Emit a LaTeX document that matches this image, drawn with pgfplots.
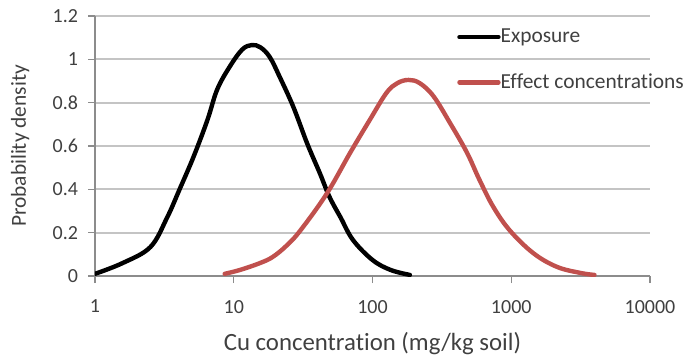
\documentclass[border=0pt]{standalone}
\usepackage{fontspec}
\setmainfont{Carlito}[Ligatures=NoCommon]
\usepackage{pgfplots}
\pgfplotsset{compat=1.18}
\definecolor{redline}{HTML}{C0504D}
\definecolor{txt}{HTML}{404040}
\definecolor{gridc}{HTML}{C4C4C4}
\definecolor{axc}{HTML}{8C8C8C}
\begin{document}
\begin{tikzpicture}
\begin{axis}[
  scale only axis, width=277.5pt, height=130pt,
  xmode=log, log basis x=10, xmin=1, xmax=10000, ymin=0, ymax=1.2,
  xtick={1,10,100,1000,10000}, xticklabels={1,10,100,1000,10000},
  ytick={0,0.2,0.4,0.6,0.8,1,1.2}, yticklabels={0,0.2,0.4,0.6,0.8,1,1.2},
  xminorticks=false,
  axis lines*=left,
  ymajorgrids, grid style={gridc, line width=0.9pt},
  tick align=outside, major tick length=3.5pt,
  tick style={axc, line width=0.7pt},
  axis line style={axc, line width=0.8pt},
  ticklabel style={font=\fontsize{10}{12}\selectfont, text=txt},
  xticklabel style={yshift=-5pt},
  yticklabel style={xshift=-1.5pt},
  /pgf/number format/assume math mode=true,
  xlabel={Cu concentration (mg/kg soil)},
  ylabel={Probability density},
  label style={text=txt},
  xlabel style={font=\fontsize{12.4}{14}\selectfont, at={(axis description cs:0.5,-0.258)}, anchor=center},
  ylabel style={font=\fontsize{10.7}{12}\selectfont, at={(axis description cs:-0.135,0.5)}, anchor=center},
  legend style={at={(axis description cs:0.652,0.968)}, anchor=north west,
    draw=none, fill=none, inner sep=0pt, row sep=10pt,
    font=\fontsize{10.7}{13}\selectfont, text=txt,
    nodes={inner xsep=0pt}},
  legend cell align=left,
  legend image code/.code={\draw[#1] (0pt,0pt) -- (19.5pt,0pt);},
  every axis plot/.append style={line width=2.2pt, line join=round, line cap=round},
]
\addplot[black, smooth, tension=0.6] coordinates {
  (1,0.01) (1.585,0.06) (2.51,0.134) (3.31,0.27) (4.07,0.40) (5.13,0.55)
  (6.46,0.72) (7.59,0.86) (9.33,0.965) (11.5,1.045) (13.5,1.066) (15.6,1.055)
  (18.2,1.01) (21.4,0.92) (26.9,0.78) (33.9,0.61) (41.7,0.475) (49.0,0.365)
  (58.9,0.27) (72.4,0.166) (100,0.074) (135,0.028) (186,0.005)
};
\addlegendentry{Exposure}
\addplot[redline, smooth, tension=0.6] coordinates {
  (8.6,0.01) (11.1,0.028) (15.5,0.06) (19.1,0.088) (24.0,0.14) (30.2,0.21)
  (46.8,0.38) (69.2,0.57) (95.5,0.72) (126,0.845) (151,0.89) (182,0.905)
  (219,0.89) (275,0.83) (363,0.705) (479,0.57) (589,0.445) (741,0.32)
  (977,0.21) (1445,0.105) (2138,0.042) (3162,0.014) (3981,0.005)
};
\addlegendentry{Effect concentrations}
\end{axis}
\pgfresetboundingbox
\path (current axis.south west) ++(-47.5pt,-39pt) rectangle ++(342pt,177pt);
\end{tikzpicture}
\end{document}
